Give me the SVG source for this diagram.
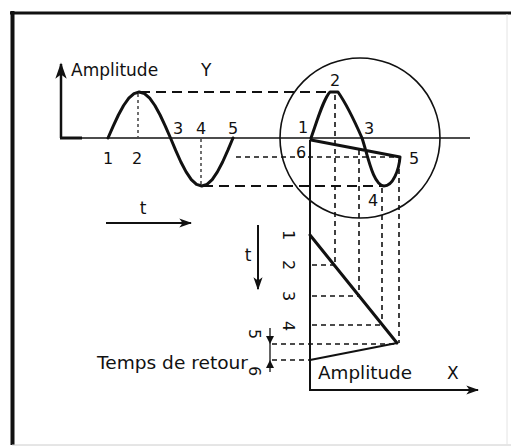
<svg xmlns="http://www.w3.org/2000/svg" width="511" height="447" viewBox="0 0 511 447">
<style>
text{font-family:"DejaVu Sans","Liberation Sans",sans-serif;fill:#111}
.lbl{font-size:17px}
.num{font-size:16px}
.thin{stroke:#111;stroke-width:1.3;fill:none}
.thick{stroke:#111;stroke-width:3;fill:none;stroke-linejoin:round;stroke-linecap:round}
.med{stroke:#111;stroke-width:2;fill:none}
.dl{stroke:#111;stroke-width:1.8;fill:none;stroke-dasharray:10 6}
.ds{stroke:#111;stroke-width:1.6;fill:none;stroke-dasharray:5 4}
.dot{stroke:#111;stroke-width:1.2;fill:none;stroke-dasharray:3 3}
</style>
<defs>
<marker id="ah" viewBox="0 0 10 10" refX="9" refY="5" markerWidth="6.5" markerHeight="6.5" orient="auto" markerUnits="strokeWidth">
<path d="M0,1.5 L10,5 L0,8.5 L2.5,5 Z" fill="#111"/>
</marker>
</defs>
<rect width="511" height="447" fill="#fff"/>
<g id="frame">
<line x1="10" y1="13" x2="511" y2="13" stroke="#111" stroke-width="3"/>
<line x1="12.5" y1="11" x2="12.5" y2="445" stroke="#111" stroke-width="4"/>
<line x1="12" y1="445" x2="511" y2="445" stroke="#ccc" stroke-width="1"/>
<line x1="507" y1="14" x2="507" y2="445" stroke="#e4e4e4" stroke-width="1"/>
</g>
<g id="connectors">
<line class="thin" x1="61" y1="138" x2="470" y2="138"/>
<line x1="61" y1="138" x2="61" y2="64" stroke="#111" stroke-width="2.5" marker-end="url(#ah)"/>
<line x1="60" y1="138" x2="82" y2="138" stroke="#111" stroke-width="3"/>
<line class="dl" x1="140" y1="92" x2="332" y2="92"/>
<line class="dl" x1="203" y1="186" x2="382" y2="186"/>
<line class="ds" x1="236" y1="157" x2="400" y2="157"/>
<line class="dot" x1="138" y1="94" x2="138" y2="137"/>
<line class="dot" x1="201" y1="139" x2="201" y2="184"/>
<line class="med" x1="310" y1="140" x2="310" y2="391"/>
<line x1="309" y1="390" x2="478" y2="390" stroke="#111" stroke-width="2" marker-end="url(#ah)"/>
<line class="ds" x1="335" y1="95" x2="335" y2="265"/>
<line class="ds" x1="359" y1="150" x2="359" y2="296"/>
<line class="ds" x1="382" y1="188" x2="382" y2="325"/>
<line class="ds" x1="399" y1="160" x2="399" y2="343"/>
<line class="ds" x1="312" y1="265" x2="335" y2="265"/>
<line class="ds" x1="312" y1="296" x2="359" y2="296"/>
<line class="ds" x1="312" y1="325" x2="382" y2="325"/>
<line class="ds" x1="272" y1="344" x2="397" y2="344"/>
<line class="ds" x1="272" y1="360" x2="310" y2="360"/>
<line x1="106" y1="223" x2="191" y2="223" stroke="#111" stroke-width="2" marker-end="url(#ah)"/>
<line x1="258" y1="225" x2="258" y2="289" stroke="#111" stroke-width="2" marker-end="url(#ah)"/>
<line class="thin" x1="270" y1="328" x2="270" y2="372"/>
<path d="M266,336 L274,336 L270,344 Z" fill="#111"/>
<path d="M266,368 L274,368 L270,360 Z" fill="#111"/>
</g>
<g id="sine-wave">
<polyline class="thick" points="108,138 113.2,126.1 118.4,115 123.6,105.5 128.8,98.2 134,93.6 139.2,92 144.5,93.6 149.7,98.2 154.9,105.5 160.1,115 165.3,126.1 170.5,138 175.7,150.4 180.9,162 186.1,171.9 191.3,179.6 196.5,184.4 201.8,186 207,184.4 212.2,179.6 217.4,171.9 222.6,162 227.8,150.4 233,138"/>
</g>
<g id="scope-circle">
<circle cx="360" cy="138" r="80" fill="none" stroke="#111" stroke-width="1.6"/>
<path class="thick" d="M311,138 C318,118 324,98 330,92 L338,92 C345,102 355,122 362,138 C368,156 373,185 384,186 C393,186 399,170 400,157 L311,140"/>
</g>
<g id="time-ramp">
<line class="thick" x1="310" y1="235" x2="397" y2="343"/>
<line class="med" x1="397" y1="343" x2="310" y2="360"/>
</g>
<g id="labels">
<text class="lbl" x="71" y="76">Amplitude</text>
<text class="lbl" x="201" y="76">Y</text>
<text class="num" x="108" y="164" text-anchor="middle">1</text>
<text class="num" x="137" y="164" text-anchor="middle">2</text>
<text class="num" x="178" y="134" text-anchor="middle">3</text>
<text class="num" x="201" y="134" text-anchor="middle">4</text>
<text class="num" x="233" y="134" text-anchor="middle">5</text>
<text class="num" x="335" y="86" text-anchor="middle">2</text>
<text class="num" x="303" y="133" text-anchor="middle">1</text>
<text class="num" x="369" y="134" text-anchor="middle">3</text>
<text class="num" x="301" y="158" text-anchor="middle">6</text>
<text class="num" x="414" y="164" text-anchor="middle">5</text>
<text class="num" x="373" y="206" text-anchor="middle">4</text>
<text class="lbl" x="143" y="214" text-anchor="middle">t</text>
<text class="lbl" x="248" y="261" text-anchor="middle">t</text>
<text class="num" transform="translate(289,235) rotate(90)" text-anchor="middle" y="6">1</text>
<text class="num" transform="translate(289,265) rotate(90)" text-anchor="middle" y="6">2</text>
<text class="num" transform="translate(289,296) rotate(90)" text-anchor="middle" y="6">3</text>
<text class="num" transform="translate(289,326) rotate(90)" text-anchor="middle" y="6">4</text>
<text class="num" transform="translate(255,334) rotate(90)" text-anchor="middle" y="6">5</text>
<text class="num" transform="translate(255,371) rotate(90)" text-anchor="middle" y="6">6</text>
<text class="lbl" x="97" y="369" textLength="151" lengthAdjust="spacingAndGlyphs">Temps de retour</text>
<text class="lbl" x="318" y="379" textLength="94" lengthAdjust="spacingAndGlyphs">Amplitude</text>
<text class="lbl" x="447" y="379">X</text>
</g>
</svg>
